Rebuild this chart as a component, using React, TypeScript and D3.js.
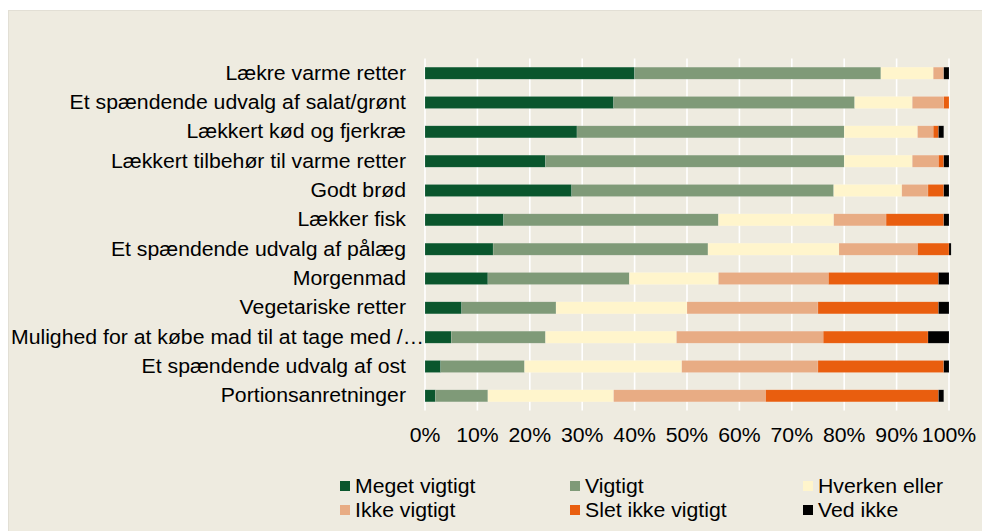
import React from 'react';
import * as d3 from 'd3';

const WIDTH = 982;
const HEIGHT = 531;
const PLOT = { left: 425, right: 949, top: 58.5, bottom: 410.5 };
const FONT = '"Liberation Sans", Arial, sans-serif';
const FONT_SIZE = 19.5;
const STRETCH = 1.09;

const categories = [
  'Lækre varme retter',
  'Et spændende udvalg af salat/grønt',
  'Lækkert kød og fjerkræ',
  'Lækkert tilbehør til varme retter',
  'Godt brød',
  'Lækker fisk',
  'Et spændende udvalg af pålæg',
  'Morgenmad',
  'Vegetariske retter',
  'Mulighed for at købe mad til at tage med /…',
  'Et spændende udvalg af ost',
  'Portionsanretninger',
];

const seriesNames = ['Meget vigtigt', 'Vigtigt', 'Hverken eller', 'Ikke vigtigt', 'Slet ikke vigtigt', 'Ved ikke'];
const seriesColors = ['#0A562D', '#7F9A78', '#FFF5CC', '#E8AC84', '#E95E0F', '#000000'];

const megetVigtigt = [40, 36, 29, 23, 28, 15, 13, 12, 7, 5, 3, 2];
const vigtigt = [47, 46, 51, 57, 50, 41, 41, 27, 18, 18, 16, 10];
const hverkenEller = [10, 11, 14, 13, 13, 22, 25, 17, 25, 25, 30, 24];
const ikkeVigtigt = [2, 6, 3, 5, 5, 10, 15, 21, 25, 28, 26, 29];
const sletIkkeVigtigt = [0, 1, 1, 1, 3, 11, 6, 21, 23, 20, 24, 33];
const vedIkke = [1, 0, 1, 1, 1, 1, 0.4, 2, 2, 4, 1, 1];

const xTicks = [0, 10, 20, 30, 40, 50, 60, 70, 80, 90, 100];

const seriesValues = [megetVigtigt, vigtigt, hverkenEller, ikkeVigtigt, sletIkkeVigtigt, vedIkke];

// legend layout: 3 columns x 2 rows
const legendCols = [340, 570, 803];
const legendRows = [486, 510];

const App = () => {
  const rows = categories.map((c, i) => {
    const r: any = { category: c };
    seriesNames.forEach((s, j) => (r[s] = seriesValues[j][i]));
    return r;
  });

  const stacked = d3.stack().keys(seriesNames)(rows);

  const xScale = d3.scaleLinear().domain([0, 100]).range([PLOT.left, PLOT.right]);
  const yScale = d3
    .scaleBand()
    .domain(categories)
    .range([PLOT.top, PLOT.bottom])
    .paddingInner(0.59)
    .paddingOuter(0.295);

  const label = (x: number, y: number, txt: string, anchor: string, key: any) => (
    <text
      key={key}
      transform={`translate(${x},${y}) scale(${STRETCH},1)`}
      textAnchor={anchor}
      fontFamily={FONT}
      fontSize={FONT_SIZE}
      fill="#000"
    >
      {txt}
    </text>
  );

  return (
    <svg width={WIDTH} height={HEIGHT} style={{ position: 'absolute', left: 0, top: 0 }}>
      <rect x={0} y={0} width={WIDTH} height={HEIGHT} fill="#fff" />
      <rect x={8.5} y={10.5} width={WIDTH - 8} height={HEIGHT - 10} fill="#EEEBE0" stroke="#E2DFD5" />

      {/* gridlines */}
      <g>
        {xTicks.map((t) => (
          <line key={t} x1={xScale(t)} x2={xScale(t)} y1={PLOT.top} y2={PLOT.bottom} stroke="#fff" strokeWidth={1.6} />
        ))}
      </g>

      {/* bars */}
      {stacked.map((layer, j) => (
        <g key={layer.key} fill={seriesColors[j]}>
          {layer.map((d, i) => (
            <rect
              key={i}
              x={xScale(d[0])}
              y={yScale(categories[i])}
              width={Math.max(0, xScale(d[1]) - xScale(d[0]))}
              height={yScale.bandwidth()}
              stroke="rgba(255,255,255,0.25)"
              strokeWidth={0.5}
            />
          ))}
        </g>
      ))}

      {/* category labels */}
      <g>
        {categories.map((c, i) => {
          const y = (yScale(c) as number) + yScale.bandwidth() / 2 + 6.5;
          const x = c.endsWith('…') ? 424 : 406;
          return label(x, y, c, 'end', c);
        })}
      </g>

      {/* x axis labels */}
      <g>
        {xTicks.map((t) => label(xScale(t), 442, `${t}%`, 'middle', t))}
      </g>

      {/* legend */}
      <g>
        {seriesNames.map((s, j) => {
          const col = j % 3;
          const row = Math.floor(j / 3);
          const x = legendCols[col];
          const y = legendRows[row];
          return (
            <g key={s}>
              <rect x={x} y={y - 5} width={10} height={10} fill={seriesColors[j]} />
              {label(x + 15, y + 7, s, 'start', s)}
            </g>
          );
        })}
      </g>
    </svg>
  );
};

export default App;
